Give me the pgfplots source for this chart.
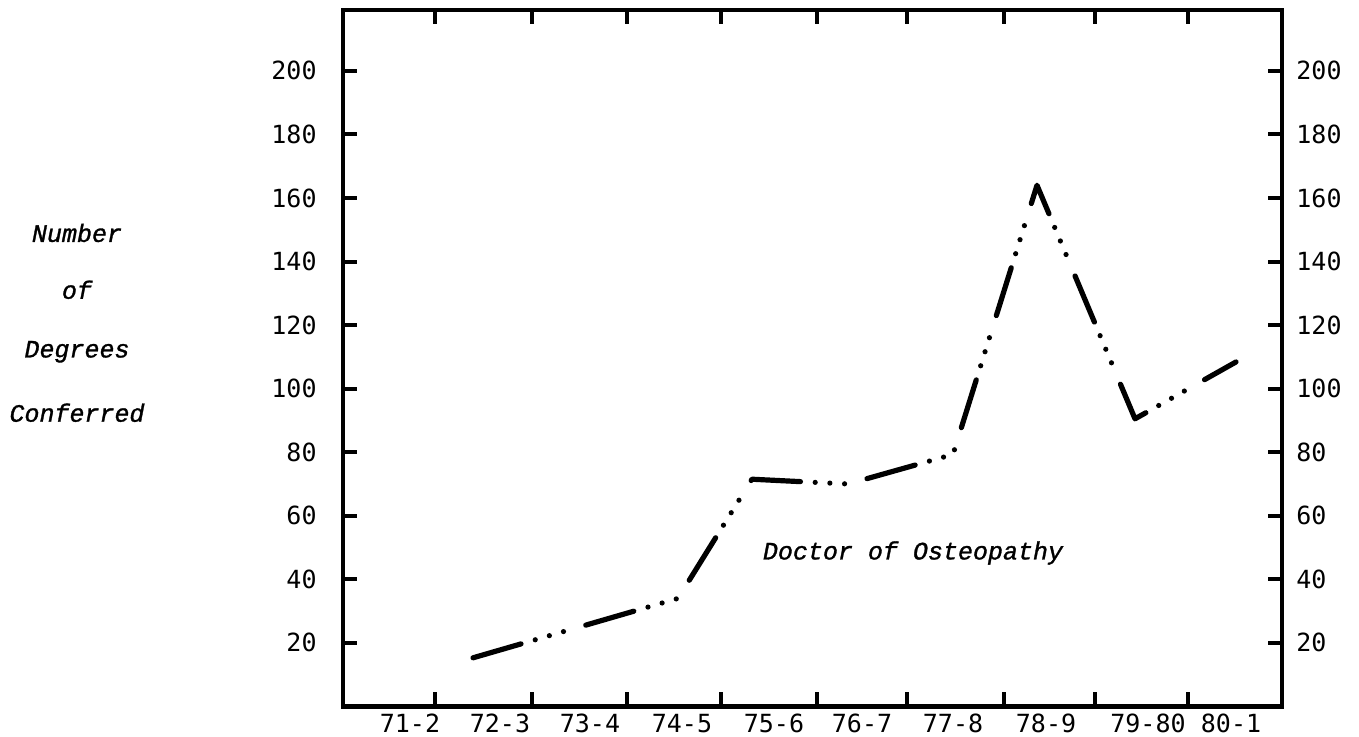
\documentclass[border=0pt]{standalone}
\usepackage{fontspec}
\usepackage{pgfplots}
\pgfplotsset{compat=1.18}
\newfontfamily\tickfont{DejaVu Sans Mono}
\newfontfamily\labfont[FakeBold=1.2]{Liberation Mono}
\newcommand{\tfont}{\tickfont\fontsize{12.5}{14}\selectfont}
\newcommand{\lfont}{\labfont\itshape\fontsize{12.5}{14}\selectfont}

\begin{document}
\begin{tikzpicture}
% x runs in the source's horizontal units, y in degrees
\begin{axis}[
  scale only axis, width=469.5pt, height=348.3pt,
  xmin=343, xmax=1282, ymin=0, ymax=219.2,
  clip=false,
  axis line style={line width=2.2pt},
  tick align=inside,
  tick style={line width=2pt, black},
  major tick length=7pt,
  xtick={435,532,627,721,817,907,1004,1095,1188},
  xticklabels={},
  extra x ticks={410,500,590,682,774,862,953,1046,1148,1231},
  extra x tick labels={71-2,72-3,73-4,74-5,75-6,76-7,77-8,78-9,79-80,80-1},
  extra x tick style={major tick length=0pt},
  ytick={20,40,...,200},
  yticklabel pos=left,
  tick label style={font=\tfont},
  /pgf/number format/assume math mode=true,
  yticklabel style={inner sep=0pt, xshift=-13pt},
  xticklabel style={inner sep=0pt, yshift=-3.5pt},
]
\addplot[line width=2.6pt, line cap=round, line join=round,
  dash pattern=on 25pt off 7.4pt on 0pt off 7.35pt on 0pt off 7.35pt on 0pt off 11.6pt]
  coordinates {(473,15.3) (678,34) (752,71.5) (848,70) (953,79.3)
               (1037,164) (1135,90.5) (1236,108.4)};
\node[font=\lfont] at (axis cs:913,48.3) {Doctor of Osteopathy};
\node[font=\lfont] at (axis cs:77,149) {Number};
\node[font=\lfont] at (axis cs:77,131.1) {of};
\node[font=\lfont] at (axis cs:77,111.6) {Degrees};
\node[font=\lfont] at (axis cs:77,92.4) {Conferred};
\coordinate (bl) at (axis cs:0,-9.5);
\coordinate (tr) at (axis cs:1359,222.3);
\end{axis}
\begin{axis}[
  scale only axis, width=469.5pt, height=348.3pt,
  xmin=343, xmax=1282, ymin=0, ymax=219.2,
  hide x axis, axis y line*=right,
  y axis line style={draw=none},
  major tick length=0pt,
  ytick={20,40,...,200},
  /pgf/number format/assume math mode=true,
  yticklabel style={font=\tfont, inner sep=0pt, xshift=7pt},
]
\end{axis}
\pgfresetboundingbox
\useasboundingbox (bl) rectangle (tr);
\end{tikzpicture}
\end{document}
